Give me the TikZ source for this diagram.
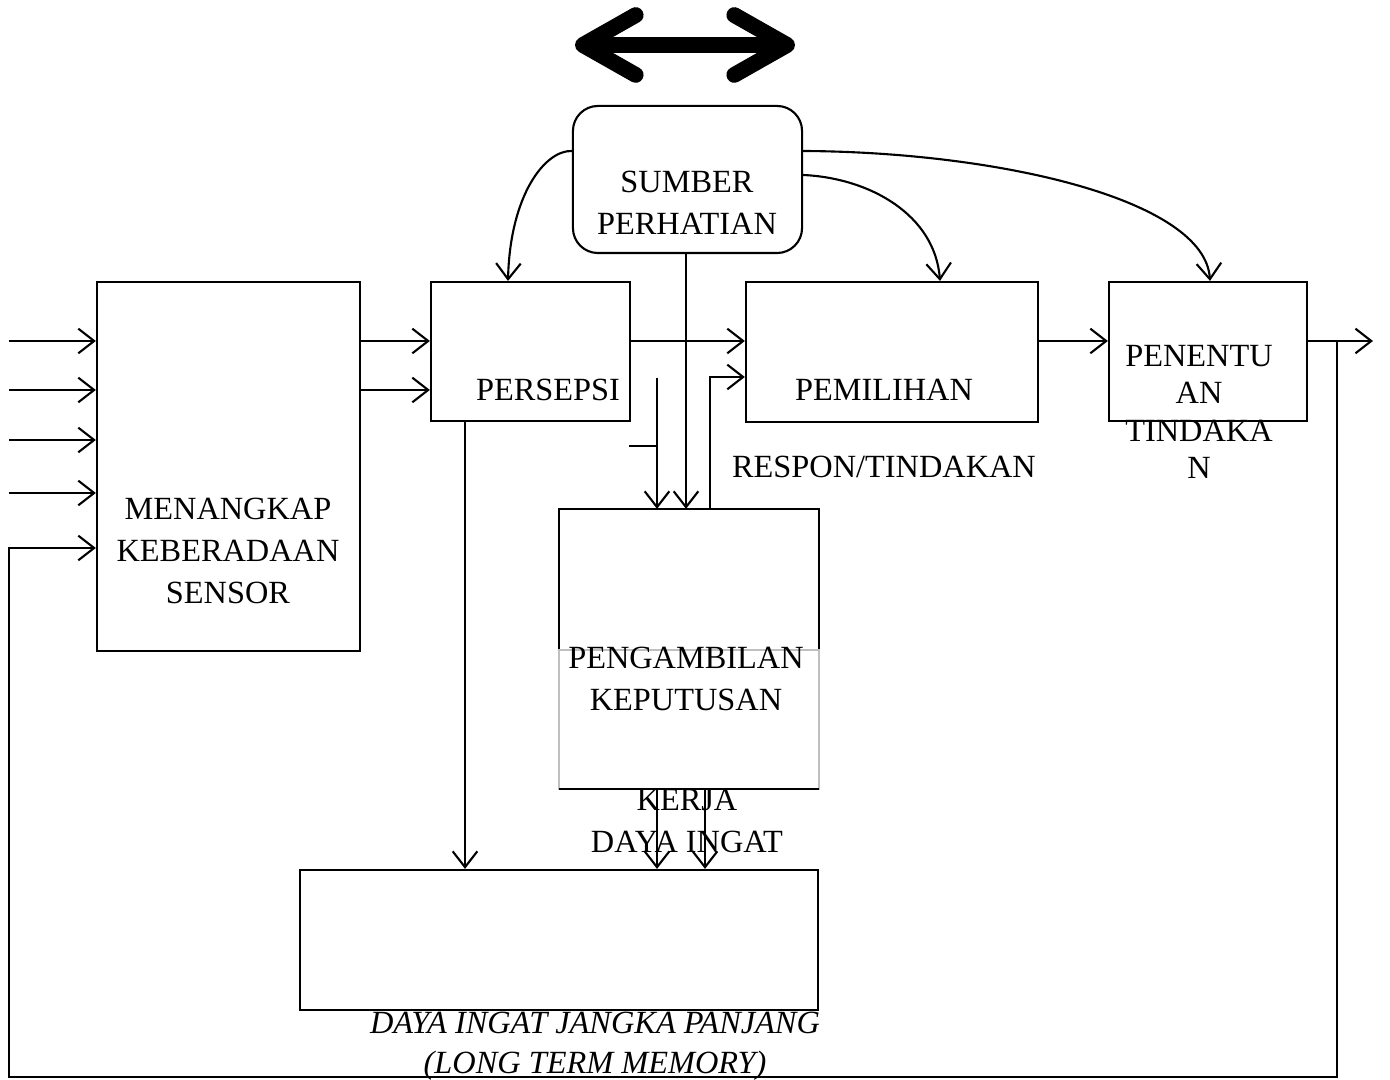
\documentclass[tikz,border=0pt]{standalone}
\usepackage{fontspec}
\setmainfont{Liberation Serif}
\usetikzlibrary{arrows.meta}

\begin{document}
\begin{tikzpicture}[x=0.01cm, y=-0.01cm, line width=0.6pt,
    box/.style={draw, inner sep=0pt},
    txt/.style={font=\fontsize{9.2}{12}\selectfont, align=center, inner sep=0pt},
    arr/.style={-{Straight Barb[length=4.5pt,width=7pt]}},
    bigarr/.style={line width=4.5pt, {Straight Barb[length=15pt,width=17pt,round]}-{Straight Barb[length=15pt,width=17pt,round]}}]
    \useasboundingbox (0,0) rectangle (1390,1080);

    % boxes
    \node[box, rounded corners=0.25cm, minimum width=2.29cm, minimum height=1.47cm] (sumber) at (687.5,179.5) {};
    \node[box, minimum width=2.63cm, minimum height=3.69cm] (sensor) at (228.5,466.5) {};
    \node[box, minimum width=1.99cm, minimum height=1.39cm] (persepsi) at (530.5,351.5) {};
    \node[box, minimum width=2.92cm, minimum height=1.40cm] (pemilihan) at (892,352) {};
    \node[box, minimum width=1.98cm, minimum height=1.39cm] (penentuan) at (1208,351.5) {};
    \node[inner sep=0pt, minimum width=2.58cm, minimum height=2.78cm] (kep) at (689,649) {};
    \node[box, minimum width=5.18cm, minimum height=1.40cm] (ltm) at (559,940) {};

    \draw (kep.west |- 0,650) |- (kep.north) -| (kep.east |- 0,650);
    \draw[gray!50] (kep.west |- 0,650) rectangle (kep.south east);
    \draw (kep.south west) -- (kep.south east);

    % texts
    \node[txt] (sumtxt) at (687,203) {SUMBER\\PERHATIAN};
    \node[txt] (senstxt) at (228,551) {MENANGKAP\\KEBERADAAN\\SENSOR};
    \node[txt] (perstxt) at (548,390) {PERSEPSI};
    \node[txt] (pemtxt) at (884,390) {PEMILIHAN};
    \node[txt] (restxt) at (884,467) {RESPON/TINDAKAN};
    \node[txt, font=\fontsize{9.2}{10.6}\selectfont] (pentxt) at (1199,412) {PENENTU\\AN\\TINDAKA\\N};
    \node[txt] (keptxt) at (686,679) {PENGAMBILAN\\KEPUTUSAN};
    \node[txt] (kertxt) at (687,821) {KERJA\\DAYA INGAT};
    \node[txt, font=\fontsize{9.2}{11.5}\selectfont\itshape] (ltmtxt) at (595,1046) {DAYA INGAT JANGKA PANJANG\\(LONG TERM MEMORY)};

    % double arrow on top
    \coordinate (al) at (575,45);
    \coordinate (ar) at (795,45);
    \draw[bigarr] (al) -- (ar);

    % inputs
    \foreach \y [count=\i] in {341,390,440,493} {
        \coordinate (in\i) at (9,\y);
        \draw[arr] (in\i) -- (sensor.west |- in\i);
    }
    \draw[arr] (sensor.east |- 0,341) -- (persepsi.west |- 0,341);
    \draw[arr] (sensor.east |- 0,390) -- (persepsi.west |- 0,390);
    \draw[arr] (persepsi.east |- 0,341) -- (pemilihan.west |- 0,341);
    \draw[arr] (pemilihan.east |- 0,341) -- (penentuan.west |- 0,341);
    \coordinate (out) at (1373,341);
    \draw[arr] (penentuan.east |- out) -- (out);

    % feedback loop
    \coordinate (fb) at (1337,341);
    \coordinate (fbl) at (9,1077);
    \draw[arr] (fb) |- (fbl) |- (sensor.west |- 0,548);

    % attention
    \draw[arr] (sumber.west |- 0,151) .. controls (545,150) and (510,195) .. (persepsi.north -| 508,0);
    \draw[arr] (sumber.east |- 0,175) .. controls (870,178) and (935,215) .. (pemilihan.north -| 940,0);
    \draw[arr] (sumber.east |- 0,151) .. controls (1000,152) and (1205,200) .. (penentuan.north -| 1210,0);
    \draw[arr] (sumber.south -| 686,0) -- (kep.north -| 686,0);

    % decision
    \coordinate (pick) at (657,378);
    \coordinate (tick) at (629,446);
    \draw[arr] (pick) -- (kep.north -| pick);
    \draw (tick) -- (tick -| pick);
    \draw[arr] (kep.north -| 710,0) |- (pemilihan.west |- 0,377);
    \draw[arr] (kep.south -| 657,0) -- (ltm.north -| 657,0);
    \draw[arr] (kep.south -| 705,0) -- (ltm.north -| 705,0);
    \draw[arr] (persepsi.south -| 465,0) -- (ltm.north -| 465,0);
\end{tikzpicture}
\end{document}
